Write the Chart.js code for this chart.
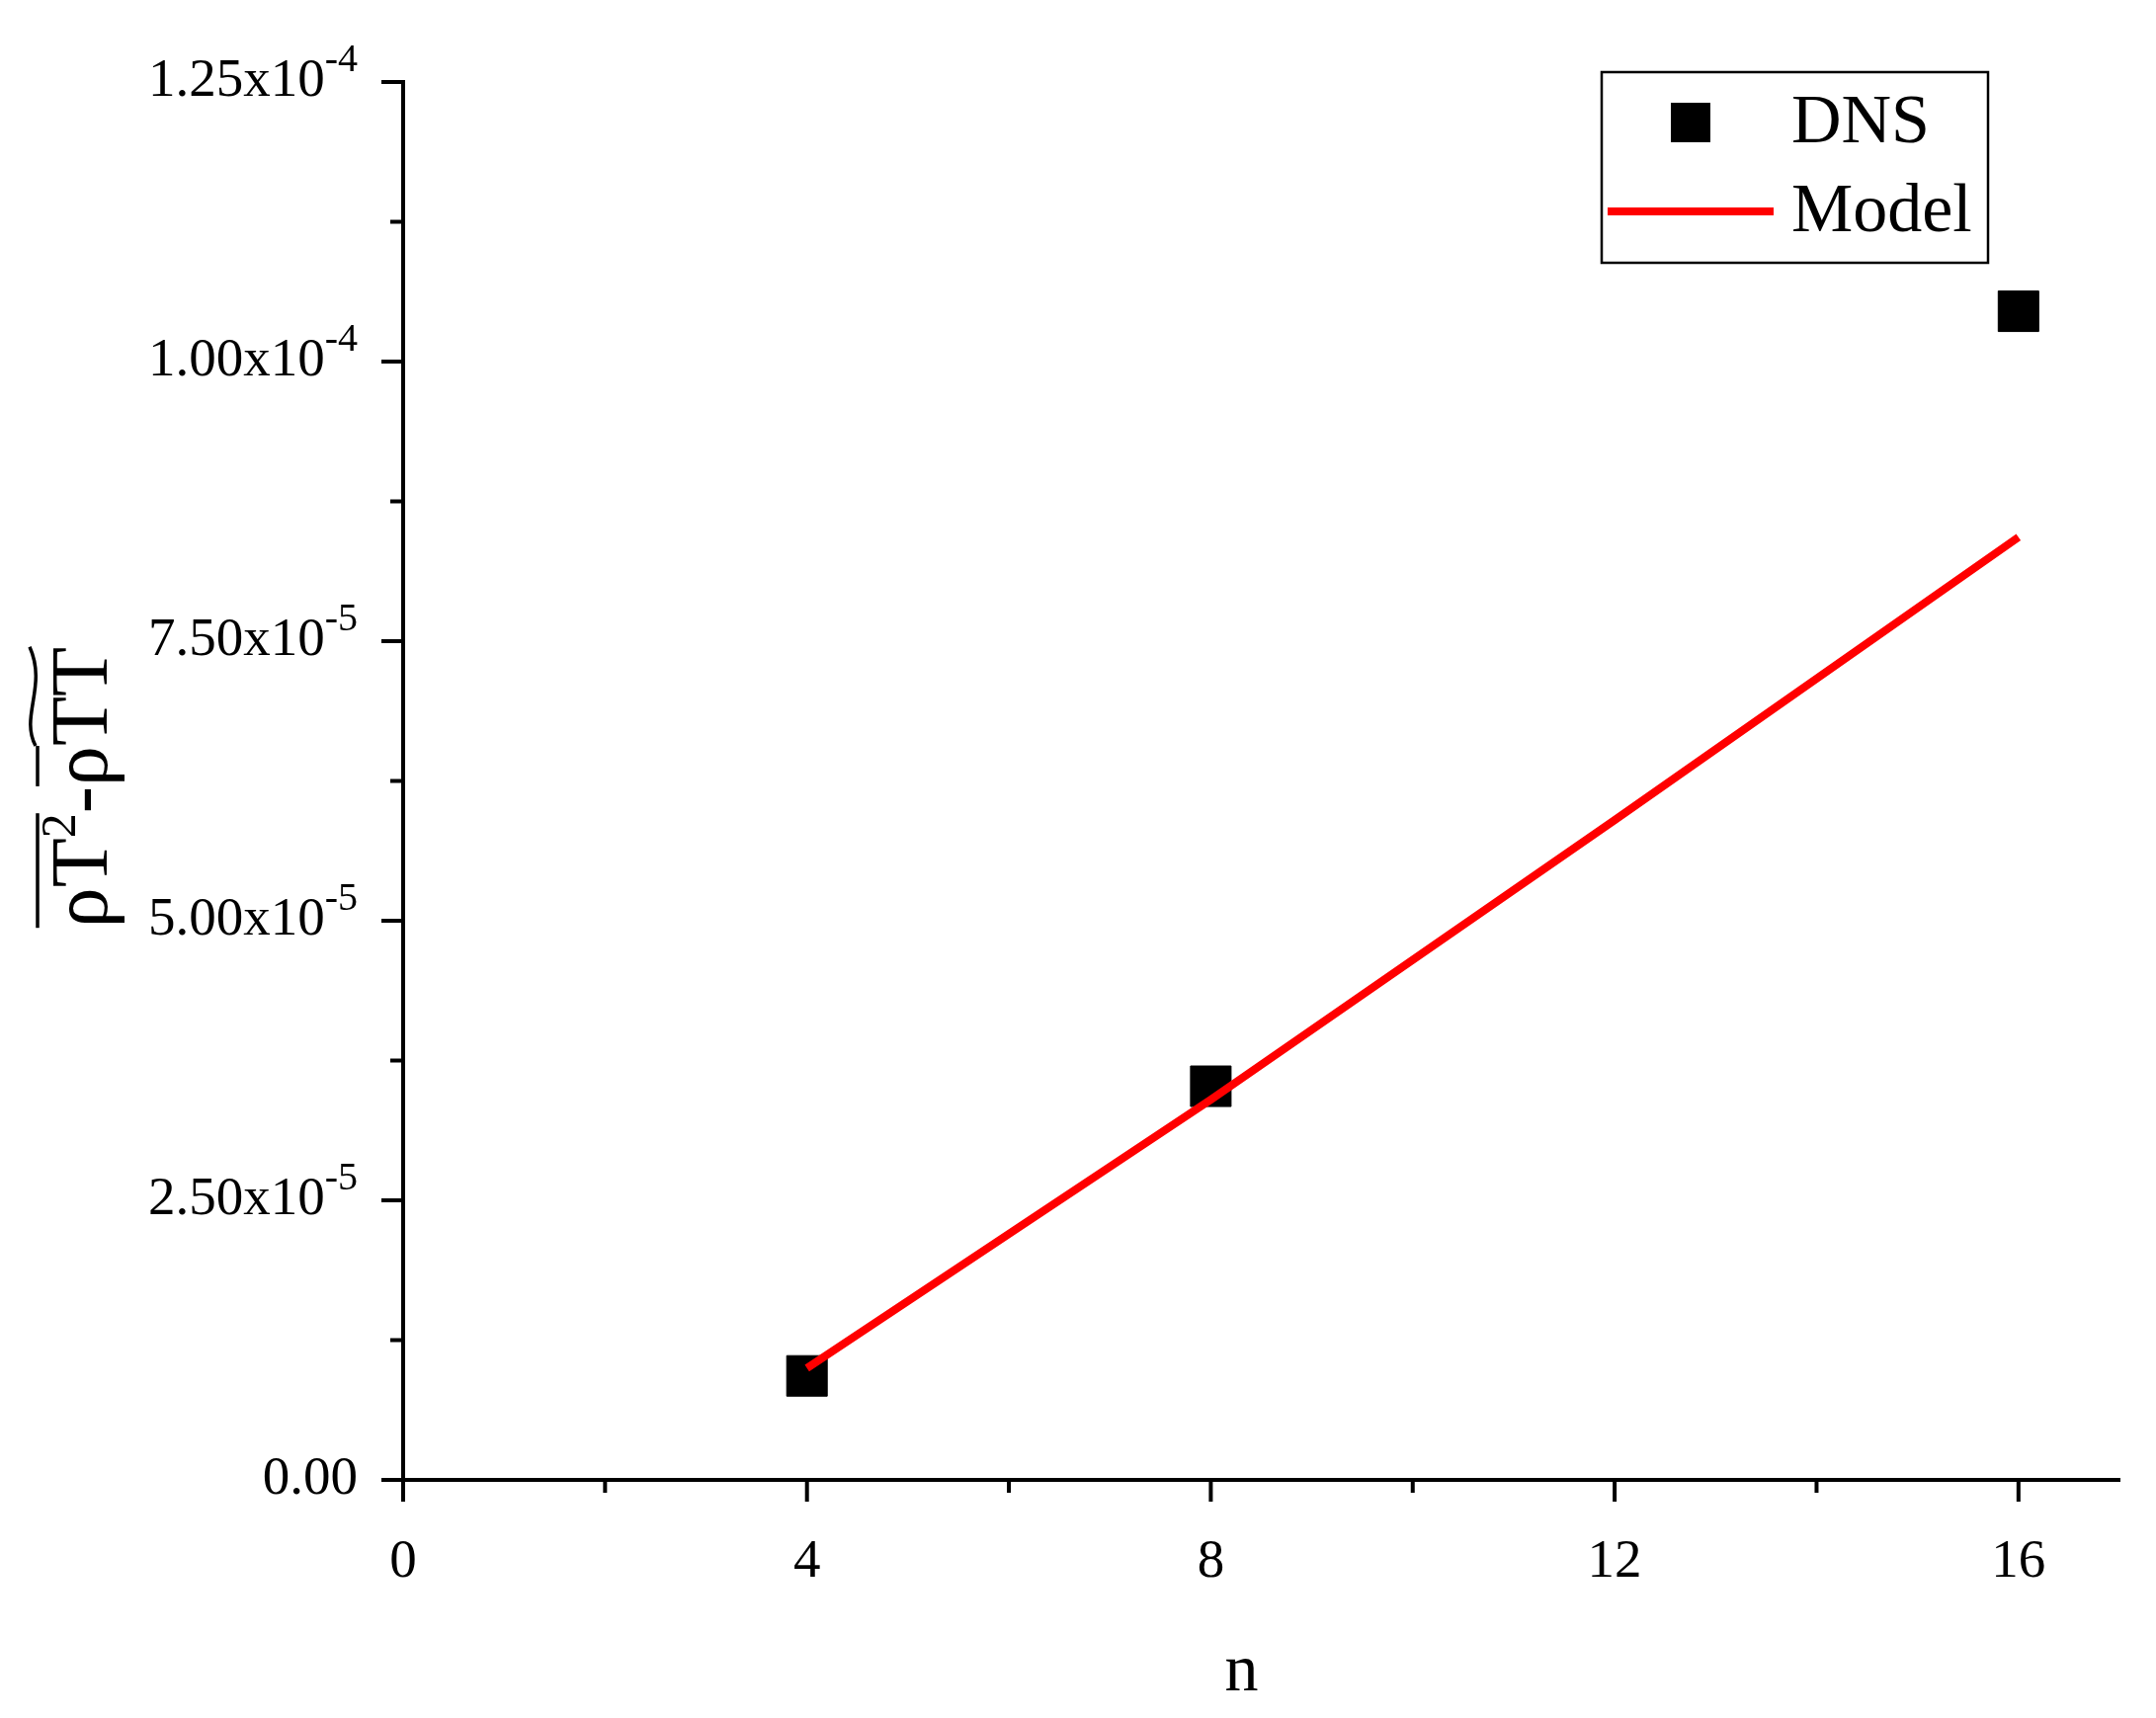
<!DOCTYPE html>
<html>
<head>
<meta charset="utf-8">
<script src="https://cdn.jsdelivr.net/npm/chart.js@4"></script>
<style>html,body{margin:0;padding:0;background:#fff;}</style>
</head>
<body>
<canvas id="c" width="2182" height="1739"></canvas>
<script>
// data
const dnsN = [4, 8, 16];
const dnsValues = [9.3e-6, 3.52e-5, 1.045e-4];
const modelN = [4, 8, 12, 16];
const modelValues = [1.0e-5, 3.4e-5, 5.9e-5, 8.43e-5];
const yTickLabels = [["0.00", ""], ["2.50x10", "-5"], ["5.00x10", "-5"], ["7.50x10", "-5"], ["1.00x10", "-4"], ["1.25x10", "-4"]];
const xTickLabels = [0, 4, 8, 12, 16];

const FONT = '"Liberation Serif", "Times New Roman", serif';

const decor = {
  id: "decor",
  afterDraw(chart) {
    const ctx = chart.ctx;
    const xs = chart.scales.x, ys = chart.scales.y;
    const area = chart.chartArea;
    ctx.save();
    ctx.strokeStyle = "#000";
    ctx.fillStyle = "#000";
    ctx.lineWidth = 4;
    // x ticks
    for (let v = 0; v <= 16; v += 2) {
      const px = xs.getPixelForValue(v);
      const len = v % 4 === 0 ? 22 : 13;
      ctx.beginPath(); ctx.moveTo(px, area.bottom); ctx.lineTo(px, area.bottom + len); ctx.stroke();
    }
    ctx.font = "55px " + FONT;
    ctx.textAlign = "center"; ctx.textBaseline = "middle";
    xTickLabels.forEach(v => ctx.fillText(String(v), xs.getPixelForValue(v), 1582));
    // y ticks
    for (let i = 0; i <= 10; i++) {
      const py = ys.getPixelForValue(i * 1.25e-5);
      const len = i % 2 === 0 ? 22 : 13;
      ctx.beginPath(); ctx.moveTo(area.left, py); ctx.lineTo(area.left - len, py); ctx.stroke();
    }
    yTickLabels.forEach((lab, i) => {
      const py = ys.getPixelForValue(i * 2.5e-5);
      ctx.font = "40px " + FONT;
      const sw = ctx.measureText(lab[1]).width;
      ctx.textAlign = "right"; ctx.textBaseline = "middle";
      ctx.fillText(lab[1], 362, py - 22);
      ctx.font = "55px " + FONT;
      ctx.fillText(lab[0], 362 - sw, py);
    });
    // x title
    ctx.font = "68px " + FONT;
    ctx.textAlign = "center";
    ctx.fillText("n", (area.left + area.right) / 2 - 20, 1693);
    // y title
    ctx.translate(80, 797);
    ctx.rotate(-Math.PI / 2);
    ctx.textBaseline = "alphabetic";
    ctx.textAlign = "left";
    const big = "82px " + FONT, small = "50px " + FONT;
    const parts = [["ρT", big, 0], ["2", small, -32], ["-", big, 0], ["ρ", big, 0], ["TT", big, 0]];
    let total = 0;
    parts.forEach(p => { ctx.font = p[1]; total += ctx.measureText(p[0]).width; });
    let x = -total / 2;
    const pos = [];
    parts.forEach(p => { ctx.font = p[1]; const w = ctx.measureText(p[0]).width; ctx.fillText(p[0], x, p[2] + 28); pos.push([x, w]); x += w; });
    ctx.lineWidth = 3.5;
    const ol = (x0, x1, y) => { ctx.beginPath(); ctx.moveTo(x0, y); ctx.lineTo(x1, y); ctx.stroke(); };
    ol(pos[0][0], pos[0][0] + pos[0][1] + pos[1][1], -42);
    ol(pos[3][0], pos[3][0] + pos[3][1], -42);
    // tilde over TT
    const tx0 = pos[4][0], tx1 = pos[4][0] + pos[4][1];
    ctx.beginPath();
    ctx.moveTo(tx0, -44);
    ctx.bezierCurveTo(tx0 + (tx1 - tx0) * 0.3, -60, tx0 + (tx1 - tx0) * 0.6, -32, tx1, -50);
    ctx.stroke();
    ctx.restore();

    // legend
    ctx.save();
    ctx.lineWidth = 2.5; ctx.strokeStyle = "#000";
    ctx.strokeRect(1621, 73, 391, 193);
    ctx.fillStyle = "#000";
    ctx.fillRect(1691, 104, 40, 40);
    ctx.strokeStyle = "#ff0000"; ctx.lineWidth = 8;
    ctx.beginPath(); ctx.moveTo(1627, 214); ctx.lineTo(1795, 214); ctx.stroke();
    ctx.font = "70px " + FONT; ctx.textBaseline = "middle"; ctx.textAlign = "left";
    ctx.fillText("DNS", 1813, 126);
    ctx.fillText("Model", 1813, 216);
    ctx.restore();
  }
};

new Chart(document.getElementById("c"), {
  type: "scatter",
  data: {
    datasets: [
      {
        label: "DNS",
        data: dnsN.map((n, i) => ({ x: n, y: dnsValues[i] })),
        pointStyle: "rect",
        pointRadius: 29,
        backgroundColor: "#000",
        borderColor: "#000",
        order: 2
      },
      {
        label: "Model",
        type: "line",
        data: modelN.map((n, i) => ({ x: n, y: modelValues[i] })),
        borderColor: "#ff0000",
        borderWidth: 8,
        pointRadius: 0,
        fill: false,
        order: 1
      }
    ]
  },
  options: {
    responsive: false,
    animation: false,
    devicePixelRatio: 1,
    layout: { padding: { top: 83, right: 37, left: 0, bottom: 0 } },
    plugins: { legend: { display: false }, tooltip: { enabled: false } },
    scales: {
      x: {
        type: "linear", min: 0, max: 17,
        grid: { display: false },
        border: { display: true, color: "#000", width: 4 },
        ticks: { display: false },
        afterFit(s) { s.height = 241; }
      },
      y: {
        type: "linear", min: 0, max: 1.25e-4,
        grid: { display: false },
        border: { display: true, color: "#000", width: 4 },
        ticks: { display: false },
        afterFit(s) { s.width = 408; }
      }
    }
  },
  plugins: [decor]
});
</script>
</body>
</html>
